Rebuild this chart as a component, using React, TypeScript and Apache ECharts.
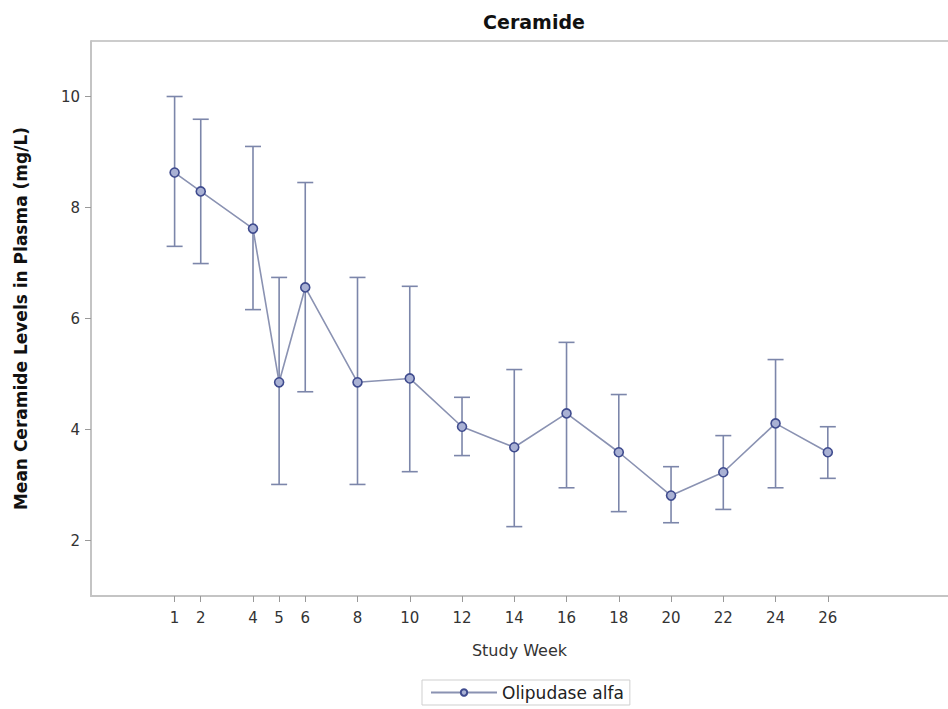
import React, { useEffect, useRef } from "react";
import * as echarts from "echarts";

const weeks = [1, 2, 4, 5, 6, 8, 10, 12, 14, 16, 18, 20, 22, 24, 26];
const means = [8.63, 8.29, 7.62, 4.85, 6.56, 4.85, 4.92, 4.05, 3.68, 4.29, 3.59, 2.81, 3.23, 4.11, 3.59];
const uppers = [10.0, 9.59, 9.10, 6.74, 8.45, 6.74, 6.58, 4.58, 5.08, 5.57, 4.63, 3.33, 3.89, 5.26, 4.05];
const lowers = [7.30, 6.99, 6.16, 3.01, 4.68, 3.01, 3.24, 3.53, 2.25, 2.95, 2.52, 2.32, 2.56, 2.95, 3.12];
const yTicks = [2, 4, 6, 8, 10];
const seriesName = "Olipudase alfa";

const FONT = "DejaVu Sans, Verdana, sans-serif";

export default function App() {
  const ref = useRef<HTMLDivElement>(null);
  useEffect(() => {
    if (!ref.current) return;
    const chart = echarts.init(ref.current, undefined, { renderer: "svg" });
    const lineData = weeks.map((w, i) => [w, means[i]]);
    const errData = weeks.map((w, i) => [w, lowers[i], uppers[i]]);
    const barColor = "#7c86aa";
    chart.setOption({
      animation: false,
      backgroundColor: "#fff",
      textStyle: { fontFamily: FONT },
      title: {
        text: "Ceramide",
        left: 529,
        top: 7,
        textAlign: "center",
        textStyle: { fontFamily: FONT, fontSize: 19, fontWeight: "bold", color: "#111" },
      },
      legend: {
        data: [seriesName],
        left: 422,
        top: 680,
        itemWidth: 66,
        itemHeight: 8,
        padding: [4, 6, 4, 8],
        borderColor: "#cfcfcf",
        borderWidth: 1,
        textStyle: { fontFamily: FONT, fontSize: 17, color: "#222" },
      },
      graphic: [
        {
          type: "line",
          shape: { x1: 91, y1: 41, x2: 948, y2: 41 },
          style: { stroke: "#cccccc", lineWidth: 2 },
        },
      ],
      grid: {
        left: 91,
        right: 0,
        top: 41,
        bottom: 113,
      },
      xAxis: {
        type: "value",
        min: -2.2,
        max: 30.6,
        name: "Study Week",
        nameLocation: "middle",
        nameGap: 46,
        nameTextStyle: { fontFamily: FONT, fontSize: 16, color: "#333" },
        axisLine: { show: true, onZero: false, lineStyle: { color: "#c4c4c4", width: 2 } },
        axisTick: { show: true, customValues: weeks, length: 6, lineStyle: { color: "#999" } },
        axisLabel: { customValues: weeks, margin: 14, fontSize: 15, color: "#333", fontFamily: FONT },
        splitLine: { show: false },
      },
      yAxis: {
        type: "value",
        min: 1,
        max: 11,
        name: "Mean Ceramide Levels in Plasma (mg/L)",
        nameLocation: "middle",
        nameGap: 62,
        nameTextStyle: { fontFamily: FONT, fontSize: 17, fontWeight: "bold", color: "#111" },
        axisLine: { show: true, onZero: false, lineStyle: { color: "#c4c4c4", width: 2 } },
        axisTick: { show: true, customValues: yTicks, length: 6, lineStyle: { color: "#999" } },
        axisLabel: { customValues: yTicks, margin: 11, fontSize: 15, color: "#333", fontFamily: FONT },
        splitLine: { show: false },
      },
      series: [
        {
          type: "custom",
          name: "err",
          data: errData,
          z: 1,
          renderItem: (params: any, api: any) => {
            const x = api.value(0);
            const lo = api.coord([x, api.value(1)]);
            const hi = api.coord([x, api.value(2)]);
            const hw = 8;
            const style = { stroke: barColor, lineWidth: 1.6 };
            return {
              type: "group",
              children: [
                { type: "line", shape: { x1: lo[0], y1: lo[1], x2: hi[0], y2: hi[1] }, style },
                { type: "line", shape: { x1: hi[0] - hw, y1: hi[1], x2: hi[0] + hw, y2: hi[1] }, style },
                { type: "line", shape: { x1: lo[0] - hw, y1: lo[1], x2: lo[0] + hw, y2: lo[1] }, style },
              ],
            };
          },
        },
        {
          type: "line",
          name: seriesName,
          data: lineData,
          z: 3,
          symbol: "circle",
          symbolSize: 9,
          lineStyle: { color: "#8a92b2", width: 1.6 },
          itemStyle: { color: "#a9b1d4", borderColor: "#3f4b8e", borderWidth: 1.6 },
        },
      ],
    });
    return () => chart.dispose();
  }, []);
  return (
    <div
      ref={ref}
      style={{ position: "absolute", left: 0, top: 0, width: 948, height: 709 }}
    />
  );
}
